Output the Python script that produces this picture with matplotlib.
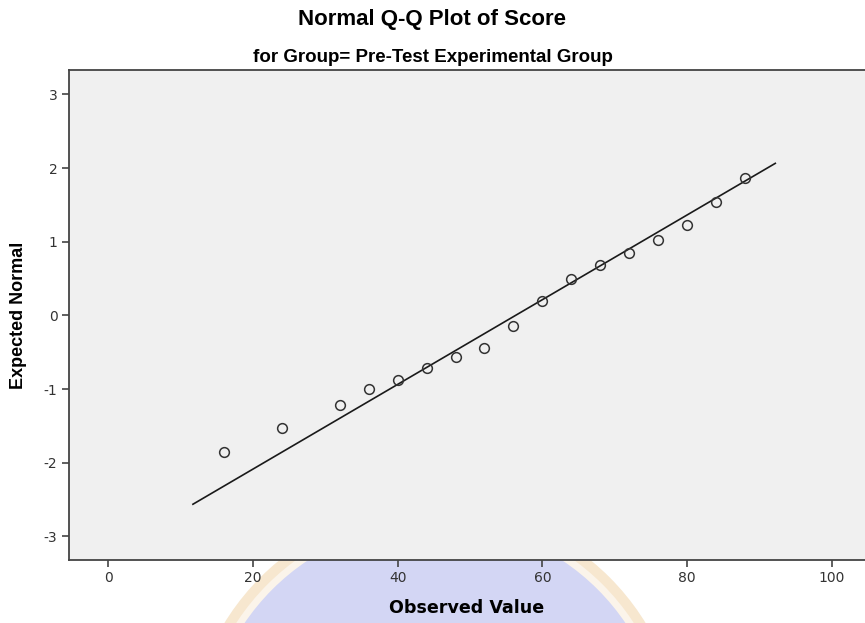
import numpy as np
import matplotlib.pyplot as plt
from matplotlib.patches import Ellipse

plt.rcParams['axes.unicode_minus'] = False

# observed scores and their expected normal values
observed = [16, 24, 32, 36, 40, 44, 48, 52, 56, 60, 64, 68, 72, 76, 80, 84, 88]
expected = [-1.85, -1.53, -1.22, -1.00, -0.88, -0.72, -0.57, -0.44, -0.15,
            0.20, 0.50, 0.68, 0.84, 1.02, 1.23, 1.54, 1.87]

# reference line: y = (x - mean) / sd
line_mean = 56.3
line_sd = 17.4
line_x = [11.7, 92.2]

x_ticks = [0, 20, 40, 60, 80, 100]
y_ticks = [-3, -2, -1, 0, 1, 2, 3]

fig = plt.figure(figsize=(8.65, 6.23), dpi=100)
fig.patch.set_facecolor('white')
fw, fh = 865, 623

# faint round logo behind the bottom of the page
cx, cy = 435 / fw, 1 - 752 / fh
for r, col in [(247, '#f7e7cf'), (237, '#fbf4ea'), (230, '#d3d6f4')]:
    fig.patches.append(Ellipse((cx, cy), 2 * r / fw, 2 * r / fh,
                               transform=fig.transFigure, facecolor=col,
                               edgecolor='none', zorder=0))

ax = fig.add_axes([68.5 / fw, 1 - 560 / fh, 1 - 68.5 / fw, 490 / fh])
ax.set_zorder(2)
ax.set_facecolor('#f0f0f0')

lx = np.array(line_x)
ax.plot(lx, (lx - line_mean) / line_sd, color='#1a1a1a', lw=1.2, zorder=2)
ax.plot(observed, expected, linestyle='none', marker='o', markersize=7,
        markerfacecolor='none', markeredgecolor='#333333', markeredgewidth=1.1, zorder=3)

ax.set_xlim(-5.5, 104.6)
ax.set_ylim(-3.32, 3.33)
ax.set_xticks(x_ticks)
ax.set_yticks(y_ticks)

for side in ['left', 'bottom', 'top']:
    ax.spines[side].set_color('#444444')
    ax.spines[side].set_linewidth(1.3)
ax.spines['right'].set_visible(False)
ax.tick_params(direction='out', length=5, width=1.2, color='#444444',
               labelsize=10, labelcolor='#333333', pad=3)

ax.set_xlabel('Observed Value', fontsize=12.6, fontweight='bold',
              family='DejaVu Sans', labelpad=10)
ax.set_ylabel('Expected Normal', fontsize=13, fontweight='bold',
              family='Liberation Sans', labelpad=12)

fig.text(0.5, 1 - 20 / fh, 'Normal Q-Q Plot of Score', ha='center', va='center',
         fontsize=16, fontweight='bold', family='Liberation Sans')
fig.text(0.5, 1 - 57 / fh, 'for Group= Pre-Test Experimental Group', ha='center',
         va='center', fontsize=13.5, fontweight='bold', family='Liberation Sans')

fig.savefig('out.png', dpi=100)
